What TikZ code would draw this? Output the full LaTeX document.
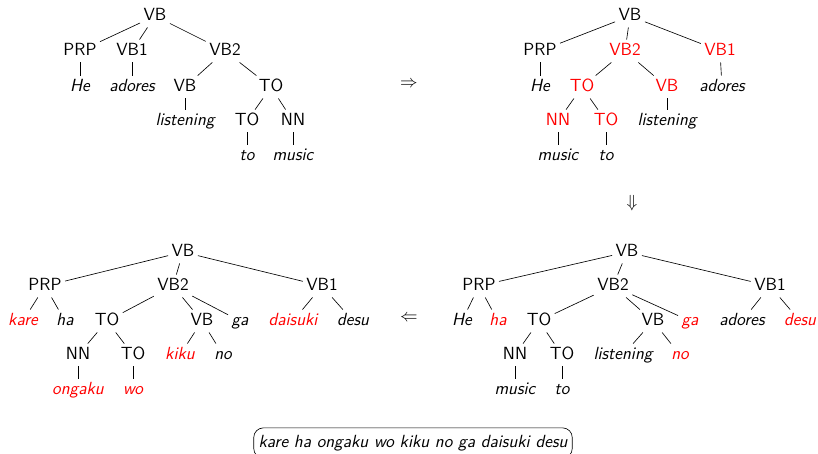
\documentclass[tikz,border=0pt]{standalone}
\usepackage{tikz}
\usetikzlibrary{shapes,arrows}
\tikzstyle{cat} = [inner sep=2pt, text height=7.7pt, text depth=2.2pt, font=\fontsize{11}{13}\selectfont\sffamily]
\tikzstyle{word} = [cat, font=\fontsize{11}{13}\selectfont\sffamily\itshape]
\tikzstyle{moved} = [text=red]
\tikzstyle{line} = [draw]
\tikzstyle{sentence} = [draw, rounded corners=6pt, inner xsep=3pt, inner ysep=4.5pt, font=\fontsize{11}{13}\selectfont\sffamily\itshape]

\begin{document}
\begin{tikzpicture}[x=0.625pt, y=-0.625pt]
    \useasboundingbox (0,0) rectangle (818,453);
    % English tree
    \node [cat] (enVB) at (155,16) {VB};
    \node [cat] (enPRP) at (80,51) {PRP};
    \node [cat] (enVBone) at (132,51) {VB1};
    \node [cat] (enVBtwo) at (225,51) {VB2};
    \node [word] (enHe) at (80,87) {He};
    \node [word] (enAdores) at (132,87) {adores};
    \node [cat] (enVBsub) at (185,87) {VB};
    \node [cat] (enTO) at (271,87) {TO};
    \node [word] (enListening) at (185,121) {listening};
    \node [cat] (enTOsub) at (247,121) {TO};
    \node [cat] (enNN) at (293,121) {NN};
    \node [word] (enTo) at (247,156) {to};
    \node [word] (enMusic) at (293,156) {music};
    % Draw edges
    \path[line](enVB) edge (enPRP) edge (enVBone) edge (enVBtwo);
    \path[line](enPRP) edge (enHe);
    \path[line](enVBone) edge (enAdores);
    \path[line](enVBtwo) edge (enVBsub) edge (enTO);
    \path[line](enVBsub) edge (enListening);
    \path[line](enTO) edge (enTOsub) edge (enNN);
    \path[line](enTOsub) edge (enTo);
    \path[line](enNN) edge (enMusic);

    % reordered tree
    \node [cat] (roVB) at (630,16) {VB};
    \node [cat] (roPRP) at (540,51) {PRP};
    \node [cat, moved] (roVBtwo) at (625,51) {VB2};
    \node [cat, moved] (roVBone) at (720,51) {VB1};
    \node [word] (roHe) at (540,87) {He};
    \node [cat, moved] (roTO) at (582,87) {TO};
    \node [cat, moved] (roVBsub) at (667,87) {VB};
    \node [word] (roAdores) at (722,87) {adores};
    \node [cat, moved] (roNN) at (558,121) {NN};
    \node [cat, moved] (roTOsub) at (606,121) {TO};
    \node [word] (roListening) at (667,121) {listening};
    \node [word] (roMusic) at (558,156) {music};
    \node [word] (roTo) at (606,156) {to};
    % Draw edges
    \path[line](roVB) edge (roPRP) edge (roVBtwo) edge (roVBone);
    \path[line](roPRP) edge (roHe);
    \path[line](roVBtwo) edge (roTO) edge (roVBsub);
    \path[line](roVBone) edge (roAdores);
    \path[line](roTO) edge (roNN) edge (roTOsub);
    \path[line](roVBsub) edge (roListening);
    \path[line](roNN) edge (roMusic);
    \path[line](roTOsub) edge (roTo);

    % tree with inserted words
    \node [cat] (inVB) at (627,252) {VB};
    \node [cat] (inPRP) at (479,286) {PRP};
    \node [cat] (inVBtwo) at (613,286) {VB2};
    \node [cat] (inVBone) at (770,286) {VB1};
    \node [word] (inHe) at (462,321) {He};
    \node [word, moved] (inHa) at (498,321) {ha};
    \node [cat] (inTO) at (539,321) {TO};
    \node [cat] (inVBsub) at (653,321) {VB};
    \node [word, moved] (inGa) at (690,321) {ga};
    \node [word] (inAdores) at (742,321) {adores};
    \node [word, moved] (inDesu) at (800,321) {desu};
    \node [cat] (inNN) at (515,355) {NN};
    \node [cat] (inTOsub) at (562,355) {TO};
    \node [word] (inListening) at (623,355) {listening};
    \node [word, moved] (inNo) at (680,355) {no};
    \node [word] (inMusic) at (515,390) {music};
    \node [word] (inTo) at (562,390) {to};
    % Draw edges
    \path[line](inVB) edge (inPRP) edge (inVBtwo) edge (inVBone);
    \path[line](inPRP) edge (inHe) edge (inHa);
    \path[line](inVBtwo) edge (inTO) edge (inVBsub) edge (inGa);
    \path[line](inVBone) edge (inAdores) edge (inDesu);
    \path[line](inTO) edge (inNN) edge (inTOsub);
    \path[line](inVBsub) edge (inListening) edge (inNo);
    \path[line](inNN) edge (inMusic);
    \path[line](inTOsub) edge (inTo);

    % Japanese tree
    \node [cat] (jaVB) at (183,252) {VB};
    \node [cat] (jaPRP) at (45,286) {PRP};
    \node [cat] (jaVBtwo) at (173,286) {VB2};
    \node [cat] (jaVBone) at (322,286) {VB1};
    \node [word, moved] (jaKare) at (23,321) {kare};
    \node [word] (jaHa) at (65,321) {ha};
    \node [cat] (jaTO) at (107,321) {TO};
    \node [cat] (jaVBsub) at (202,321) {VB};
    \node [word] (jaGa) at (240,321) {ga};
    \node [word, moved] (jaDaisuki) at (293,321) {daisuki};
    \node [word] (jaDesu) at (353,321) {desu};
    \node [cat] (jaNN) at (78,355) {NN};
    \node [cat] (jaTOsub) at (133,355) {TO};
    \node [word, moved] (jaKiku) at (180,355) {kiku};
    \node [word] (jaNo) at (223,355) {no};
    \node [word, moved] (jaOngaku) at (78,390) {ongaku};
    \node [word, moved] (jaWo) at (133,390) {wo};
    % Draw edges
    \path[line](jaVB) edge (jaPRP) edge (jaVBtwo) edge (jaVBone);
    \path[line](jaPRP) edge (jaKare) edge (jaHa);
    \path[line](jaVBtwo) edge (jaTO) edge (jaVBsub) edge (jaGa);
    \path[line](jaVBone) edge (jaDaisuki) edge (jaDesu);
    \path[line](jaTO) edge (jaNN) edge (jaTOsub);
    \path[line](jaVBsub) edge (jaKiku) edge (jaNo);
    \path[line](jaNN) edge (jaOngaku);
    \path[line](jaTOsub) edge (jaWo);

    % steps between the trees
    \node [font=\fontsize{11}{13}\selectfont] (reorder) at (409,84) {$\Rightarrow$};
    \node [font=\fontsize{11}{13}\selectfont] (insert) at (632,203) {$\Downarrow$};
    \node [font=\fontsize{11}{13}\selectfont] (translate) at (409,318) {$\Leftarrow$};

    \node [sentence] (output) at (413,443) {kare ha ongaku wo kiku no ga daisuki desu};
\end{tikzpicture}
\end{document}
